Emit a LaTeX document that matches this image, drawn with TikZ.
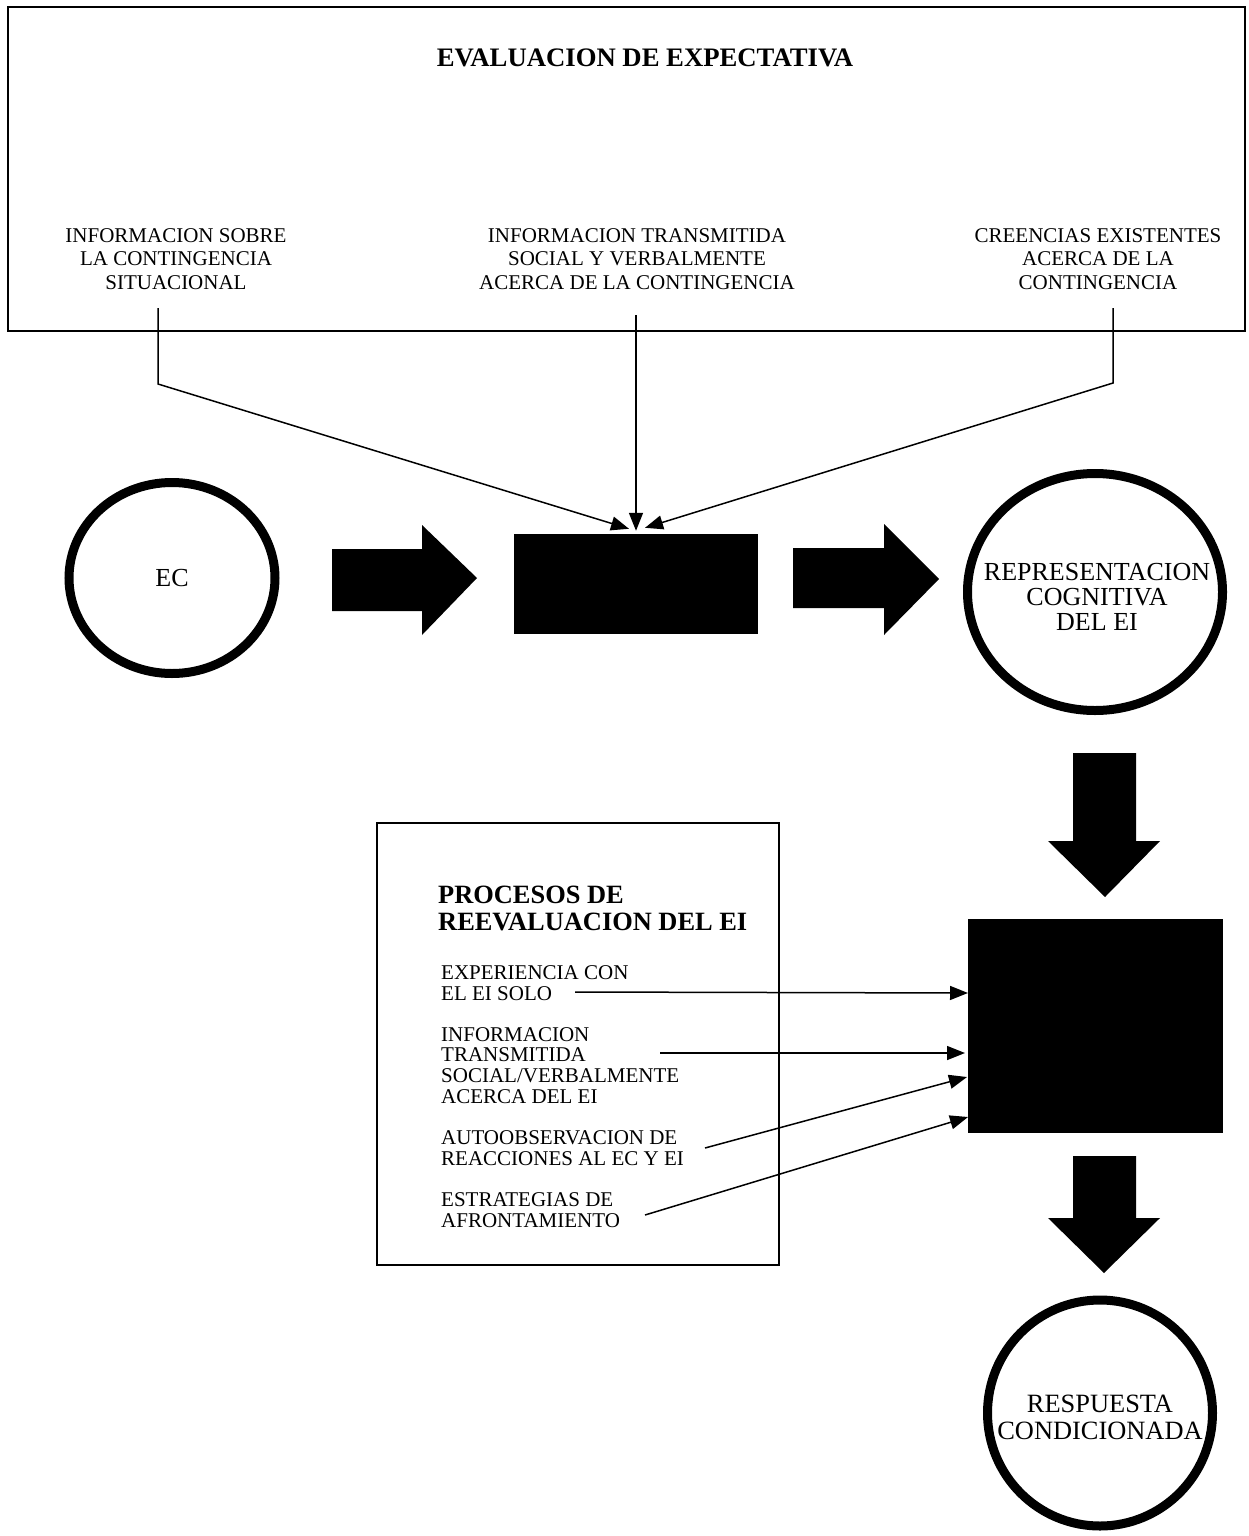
\documentclass[tikz,border=0pt]{standalone}
\usepackage{fontspec}
\setmainfont{Liberation Serif}
\usetikzlibrary{arrows.meta,shapes.geometric}

\newcommand\fsz[2]{\fontsize{#1}{#2}\selectfont}

\begin{document}
\begin{tikzpicture}[x=1pt,y=-1pt,
  frame/.style={draw, line width=1.4pt, inner sep=0pt},
  ring/.style={draw, ellipse, line width=9pt, inner sep=0pt},
  blackbox/.style={fill=black, draw=none, inner sep=0pt},
  link/.style={line width=1.5pt, -{Triangle[length=18pt,width=14pt]}},
  lbl/.style={align=center, font=\fsz{21}{23.5}, inner sep=0pt},
  ringtext/.style={align=center, font=\fsz{26}{25}, inner sep=0pt},
  itemtext/.style={align=left, anchor=base west, font=\fsz{21}{20.6}, inner sep=0pt},
  blockarrow/.style={fill=black}
]
\useasboundingbox (0,0) rectangle (1249,1536);

% ---- expectation assessment frame ----
\node[frame, minimum width=1237pt, minimum height=324pt] (evalbox) at (626.5,169) {};
\node[font=\bfseries\fsz{26.7}{28}, inner sep=0pt] (evaltitle) at (645,58) {EVALUACION DE EXPECTATIVA};
\node[lbl] (info1) at (176,259) {INFORMACION SOBRE\\LA CONTINGENCIA\\SITUACIONAL};
\node[lbl] (info2) at (637,259) {INFORMACION TRANSMITIDA\\SOCIAL Y VERBALMENTE\\ACERCA DE LA CONTINGENCIA};
\node[lbl] (info3) at (1098,259) {CREENCIAS EXISTENTES\\ACERCA DE LA\\CONTINGENCIA};

% ---- main row ----
\node[ring, minimum width=206pt, minimum height=191pt] (ec) at (172,578) {};
\node[ringtext] (ectext) at (ec.center) {EC};

\node[blackbox, minimum width=244pt, minimum height=100pt] (cog) at (636,584) {};

\node[ring, minimum width=255pt, minimum height=237pt] (rep) at (1095,592) {};
\node[ringtext] (reptext) at (1097,597) {REPRESENTACION\\COGNITIVA\\DEL EI};

% block arrows of the main row
\fill[blockarrow] (332,549) -- (422,549) -- (422,525) -- (477,578) -- (422,635) -- (422,611) -- (332,611) -- cycle;
\fill[blockarrow] (793,548) -- (884,548) -- (884,524) -- (939,579) -- (884,635) -- (884,608) -- (793,608) -- cycle;

% connectors from the three sources of information
\coordinate (s1) at (158,308);
\coordinate (b1) at (158,384);
\coordinate (s2) at (636,315);
\coordinate (s3) at (1113,308);
\coordinate (b3) at (1113,383);
\coordinate (tipL) at ([xshift=-7pt,yshift=5pt]cog.north);
\coordinate (tipM) at ([yshift=3pt]cog.north);
\coordinate (tipR) at ([xshift=9pt,yshift=6pt]cog.north);
\draw[link] (s1) -- (b1) -- (tipL);
\draw[link] (s2) -- (tipM);
\draw[link] (s3) -- (b3) -- (tipR);

% ---- right column ----
\fill[blockarrow] (1073,753) -- (1136,753) -- (1136,841) -- (1160,841) -- (1105,897) -- (1048,841) -- (1073,841) -- cycle;
\node[blackbox, minimum width=255pt, minimum height=214pt] (reeval) at (1095.5,1026) {};
\fill[blockarrow] (1073,1156) -- (1136,1156) -- (1136,1218) -- (1160,1218) -- (1104,1273) -- (1048,1218) -- (1073,1218) -- cycle;

\node[ring, minimum width=225pt, minimum height=226pt] (resp) at (1100,1413) {};
\node[ringtext, font=\fsz{26.4}{27}] (resptext) at (1100,1417) {RESPUESTA\\CONDICIONADA};

% ---- reassessment processes ----
% (base anchors of multi-line nodes sit on the last line)
\node[frame, minimum width=402pt, minimum height=442pt] (procbox) at (578,1044) {};
\node[align=left, anchor=base west, font=\bfseries\fsz{26.4}{27}, inner sep=0pt] (proctitle) at (438,930) {PROCESOS DE\\REEVALUACION DEL EI};

\node[itemtext] (p1) at (441,1000) {EXPERIENCIA CON\\EL EI SOLO};
\node[itemtext] (p2) at (441,1103) {INFORMACION\\TRANSMITIDA\\SOCIAL/VERBALMENTE\\ACERCA DEL EI};
\node[itemtext] (p3) at (441,1165) {AUTOOBSERVACION DE\\REACCIONES AL EC Y EI};
\node[itemtext] (p4) at (441,1227) {ESTRATEGIAS DE\\AFRONTAMIENTO};

\coordinate (a1) at (575,992);
\coordinate (a2) at (660,1053);
\coordinate (a3) at (705,1148);
\coordinate (a4) at (645,1215);
\coordinate (t1) at (968,993);
\coordinate (t2) at (965,1053);
\coordinate (t3) at (967,1077);
\coordinate (t4) at (968,1117);
\draw[link] (a1) -- (t1);
\draw[link] (a2) -- (t2);
\draw[link] (a3) -- (t3);
\draw[link] (a4) -- (t4);

\end{tikzpicture}
\end{document}
